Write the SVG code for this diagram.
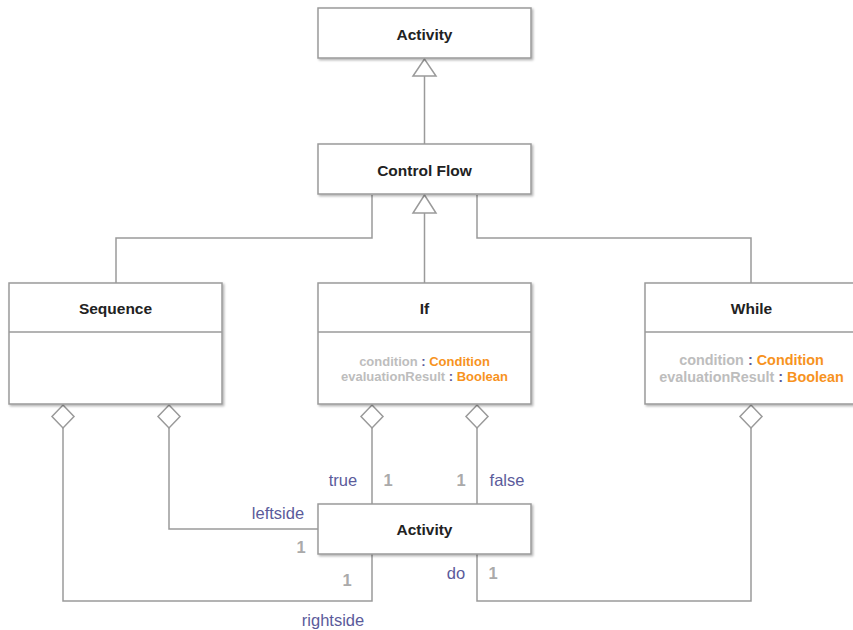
<svg xmlns="http://www.w3.org/2000/svg" width="853" height="630" viewBox="0 0 853 630">
  <style>
    .box { fill: #ffffff; stroke: #9a9a9a; stroke-width: 1.5; filter: url(#shadow); }
    .div { stroke: #9a9a9a; stroke-width: 1.5; }
    .title { font-family: "Liberation Sans", Arial, sans-serif; font-weight: bold; font-size: 15.5px; fill: #222222; text-anchor: middle; }
    .attr { font-family: "Liberation Sans", Arial, sans-serif; font-weight: bold; font-size: 13px; text-anchor: middle; }
    .attr-lg { font-size: 14.4px; }
    .aname { fill: #bdbdbd; }
    .colon { fill: #5b5b9b; }
    .atype { fill: #f7931e; }
    .edge { fill: none; stroke: #9a9a9a; stroke-width: 1.5; }
    .head { fill: #ffffff; stroke: #9a9a9a; stroke-width: 1.5; }
    .role { font-family: "Liberation Sans", Arial, sans-serif; font-size: 16.5px; fill: #5b5b9b; text-anchor: middle; }
    .mult { font-family: "Liberation Sans", Arial, sans-serif; font-weight: bold; font-size: 16.5px; fill: #aaaaaa; text-anchor: middle; }
  </style>
  <defs>
    <filter id="shadow" x="-5%" y="-5%" width="115%" height="120%">
      <feDropShadow dx="1.5" dy="1.5" stdDeviation="1.2" flood-color="#000000" flood-opacity="0.3"/>
    </filter>
  </defs>

  <rect width="853" height="630" fill="#ffffff"/>

  <!-- connectors -->
  <g id="connectors">
    <!-- Control Flow generalises Activity -->
    <line class="edge" x1="424.5" y1="76" x2="424.5" y2="144"/>
    <polygon class="head" points="424.5,59 413,76 436,76"/>

    <!-- Sequence, If, While generalise Control Flow -->
    <polyline class="edge" points="116,283 116,238 372,238 372,195"/>
    <polyline class="edge" points="751,283 751,238 477,238 477,195"/>
    <line class="edge" x1="424.5" y1="213" x2="424.5" y2="283"/>
    <polygon class="head" points="424.5,195 413,213 436,213"/>

    <!-- Sequence: leftside -->
    <polyline class="edge" points="169,428 169,529 318,529"/>
    <polygon class="head" points="169,405 180,416.5 169,428 158,416.5"/>
    <!-- Sequence: rightside -->
    <polyline class="edge" points="63,428 63,601 372,601 372,554"/>
    <polygon class="head" points="63,405 74,416.5 63,428 52,416.5"/>

    <!-- If: true / false -->
    <line class="edge" x1="372" y1="428" x2="372" y2="504"/>
    <polygon class="head" points="372,405 383,416.5 372,428 361,416.5"/>
    <line class="edge" x1="477" y1="428" x2="477" y2="504"/>
    <polygon class="head" points="477,405 488,416.5 477,428 466,416.5"/>

    <!-- While: do -->
    <polyline class="edge" points="751,428 751,601 477,601 477,554"/>
    <polygon class="head" points="751,405 762,416.5 751,428 740,416.5"/>

    <!-- role names and multiplicities -->
    <text class="role" x="343" y="486">true</text>
    <text class="mult" x="388" y="486">1</text>
    <text class="mult" x="461" y="486">1</text>
    <text class="role" x="507" y="486">false</text>
    <text class="role" x="278" y="519">leftside</text>
    <text class="mult" x="301" y="553">1</text>
    <text class="mult" x="347" y="586">1</text>
    <text class="role" x="333" y="626">rightside</text>
    <text class="role" x="456" y="579">do</text>
    <text class="mult" x="493" y="579">1</text>
  </g>

  <!-- Activity (top) -->
  <g id="activity-top">
    <rect class="box" x="318" y="8" width="213" height="50"/>
    <text class="title" x="424.5" y="40">Activity</text>
  </g>

  <!-- Control Flow -->
  <g id="control-flow">
    <rect class="box" x="318" y="144" width="213" height="50"/>
    <text class="title" x="424.5" y="176">Control Flow</text>
  </g>

  <!-- Sequence -->
  <g id="sequence">
    <rect class="box" x="9" y="283" width="213" height="121"/>
    <line class="div" x1="9" y1="332" x2="222" y2="332"/>
    <text class="title" x="115.5" y="314">Sequence</text>
  </g>

  <!-- If -->
  <g id="if">
    <rect class="box" x="318" y="283" width="213" height="121"/>
    <line class="div" x1="318" y1="332" x2="531" y2="332"/>
    <text class="title" x="424.5" y="314">If</text>
    <text class="attr" x="424.5" y="366"><tspan class="aname">condition</tspan><tspan class="colon"> : </tspan><tspan class="atype">Condition</tspan></text>
    <text class="attr" x="424.5" y="381"><tspan class="aname">evaluationResult</tspan><tspan class="colon"> : </tspan><tspan class="atype">Boolean</tspan></text>
  </g>

  <!-- While -->
  <g id="while">
    <rect class="box" x="645" y="283" width="213" height="121"/>
    <line class="div" x1="645" y1="332" x2="858" y2="332"/>
    <text class="title" x="751.5" y="314">While</text>
    <text class="attr attr-lg" x="751.5" y="365"><tspan class="aname">condition</tspan><tspan class="colon"> : </tspan><tspan class="atype">Condition</tspan></text>
    <text class="attr attr-lg" x="751.5" y="382"><tspan class="aname">evaluationResult</tspan><tspan class="colon"> : </tspan><tspan class="atype">Boolean</tspan></text>
  </g>

  <!-- Activity (bottom) -->
  <g id="activity-bottom">
    <rect class="box" x="318" y="504" width="213" height="50"/>
    <text class="title" x="424.5" y="535">Activity</text>
  </g>
</svg>
